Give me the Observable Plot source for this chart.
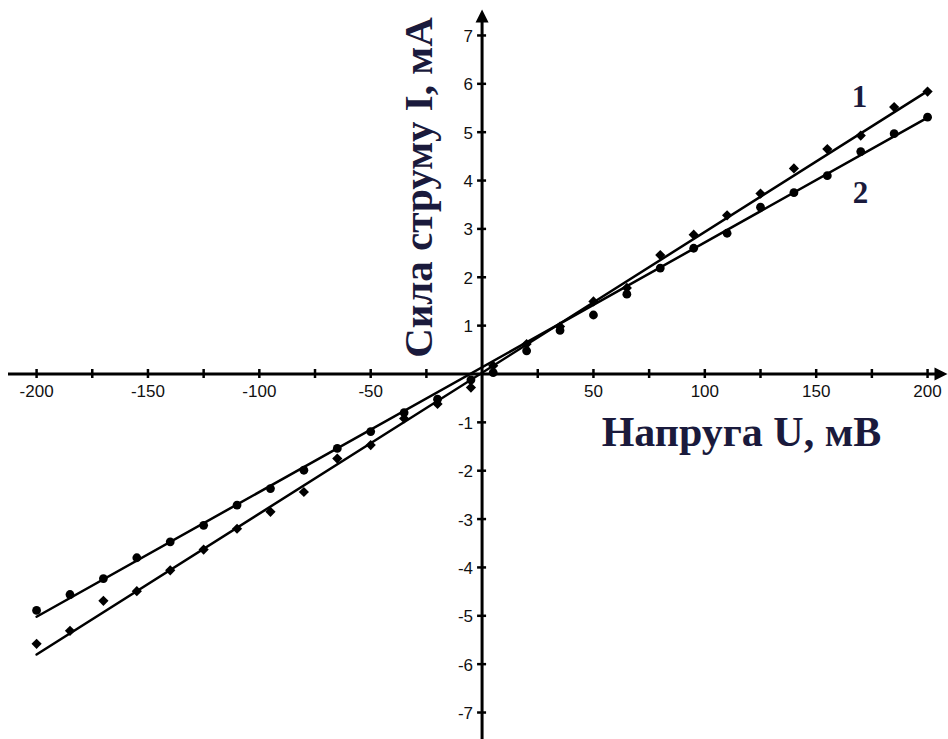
<!DOCTYPE html>
<html><head><meta charset="utf-8">
<script src="https://cdn.jsdelivr.net/npm/d3@7"></script>
<script src="https://cdn.jsdelivr.net/npm/@observablehq/plot@0.6"></script>
<style>html,body{margin:0;padding:0;background:#fff} svg{display:block}</style>
</head><body><div id="chart"></div>
<script>
// ---- data ----
const U  = [-200,-185,-170,-155,-140,-125,-110,-95,-80,-65,-50,-35,-20,-5,
             5,20,35,50,65,80,95,110,125,140,155,170,185,200];
const I1 = [-5.58,-5.31,-4.69,-4.49,-4.06,-3.63,-3.20,-2.85,-2.44,-1.75,-1.47,-0.92,-0.62,-0.28,
             0.17,0.62,0.98,1.50,1.78,2.46,2.88,3.28,3.73,4.25,4.65,4.93,5.52,5.84];
const I2 = [-4.89,-4.56,-4.23,-3.80,-3.47,-3.13,-2.71,-2.37,-1.99,-1.54,-1.19,-0.80,-0.52,-0.12,
             0.03,0.48,0.90,1.22,1.65,2.19,2.60,2.91,3.45,3.75,4.10,4.60,4.97,5.31];
const fitU = [-200, 200];
const fit1 = [-5.80, 5.85];
const fit2 = [-5.02, 5.30];
const seriesNames = ["1", "2"];
const xTicks = [-200,-175,-150,-125,-100,-75,-50,-25,25,50,75,100,125,150,175,200];
const xTickLabels = [-200,-150,-100,-50,50,100,150,200];
const yTicks = [-7,-6,-5,-4,-3,-2,-1,1,2,3,4,5,6,7];
const xTitle = "Напруга U, мВ";
const yTitle = "Сила струму I, мА";

// ---- layout ----
const W = 948, H = 739;
const xDomain = [-216.2, 209.4];
const yDomain = [-7.558, 7.723];
const kx = W / (xDomain[1] - xDomain[0]);   // px per mV
const ky = H / (yDomain[1] - yDomain[0]);   // px per mA
const px = p => xDomain[0] + p / kx;        // pixel -> data (x)
const py = p => yDomain[1] - p / ky;        // pixel -> data (y)

const pts1 = U.map((u, i) => ({u, i: I1[i]}));
const pts2 = U.map((u, i) => ({u, i: I2[i]}));
const fits = [
  ...fitU.map((u, j) => ({u, i: fit1[j], s: seriesNames[0]})),
  ...fitU.map((u, j) => ({u, i: fit2[j], s: seriesNames[1]}))
];
const labelPos = [
  {s: seriesNames[0], u: px(859), i: py(97)},
  {s: seriesNames[1], u: px(860), i: py(193)}
];

const arrowRight = {draw(c) { c.moveTo(0, 0); c.lineTo(-13, -6.5); c.lineTo(-13, 6.5); c.closePath(); }};
const arrowUp    = {draw(c) { c.moveTo(0, 0); c.lineTo(-6.5, 13); c.lineTo(6.5, 13); c.closePath(); }};

const sans = "'Liberation Sans', Arial, sans-serif";
const serif = "'Liberation Serif', 'Times New Roman', serif";
const navy = "#1a1a3c";

const chart = Plot.plot({
  width: W, height: H, margin: 0,
  x: {domain: xDomain, axis: null},
  y: {domain: yDomain, axis: null},
  style: {background: "#fff", overflow: "visible"},
  marks: [
    // axes
    Plot.ruleY([0], {x1: px(8), x2: px(940), stroke: "#000", strokeWidth: 3}),
    Plot.ruleX([0], {y1: py(739), y2: py(16), stroke: "#000", strokeWidth: 3}),
    Plot.dot([0], {x: px(947), y: 0, symbol: arrowRight, r: 5, fill: "#000", stroke: null}),
    Plot.dot([0], {x: 0, y: py(9), symbol: arrowUp, r: 5, fill: "#000", stroke: null}),
    Plot.ruleX(xTicks, {x: d => d, y1: -4.5 / ky, y2: 4.5 / ky, stroke: "#000", strokeWidth: 2.5}),
    Plot.ruleY(yTicks, {y: d => d, x1: -4.5 / kx, x2: 4.5 / kx, stroke: "#000", strokeWidth: 2.5}),
    Plot.text(xTickLabels, {x: d => d, y: 0, dy: 18, text: d => String(d), fontSize: 17,
      fontFamily: sans, fill: "#111", letterSpacing: "-1px"}),
    Plot.text(yTicks, {x: 0, y: d => d, dx: -9, dy: 1, text: d => String(d), textAnchor: "end",
      fontSize: 17, fontFamily: sans, fill: "#111", letterSpacing: "-1px"}),
    // fitted lines
    Plot.line(fits, {x: "u", y: "i", z: "s", stroke: "#000", strokeWidth: 2.5}),
    // measured points
    Plot.dot(pts1, {x: "u", y: "i", symbol: "diamond2", r: 4.6, fill: "#000", stroke: null}),
    Plot.dot(pts2, {x: "u", y: "i", symbol: "circle", r: 4.4, fill: "#000", stroke: null}),
    // curve labels
    Plot.text(labelPos, {x: "u", y: "i", text: "s", fontSize: 31, fontWeight: "bold",
      fontFamily: serif, fill: navy}),
    // titles
    Plot.text([xTitle], {x: px(741), y: py(432), text: d => d, fontSize: 42, fontWeight: "bold",
      fontFamily: serif, fill: navy, ariaLabel: "x-title"}),
    Plot.text([yTitle], {x: px(418), y: py(187), text: d => d, fontSize: 41, fontWeight: "bold",
      fontFamily: serif, fill: navy, rotate: -90, ariaLabel: "y-title"})
  ]
});
document.getElementById("chart").appendChild(chart);
</script>
</body></html>
